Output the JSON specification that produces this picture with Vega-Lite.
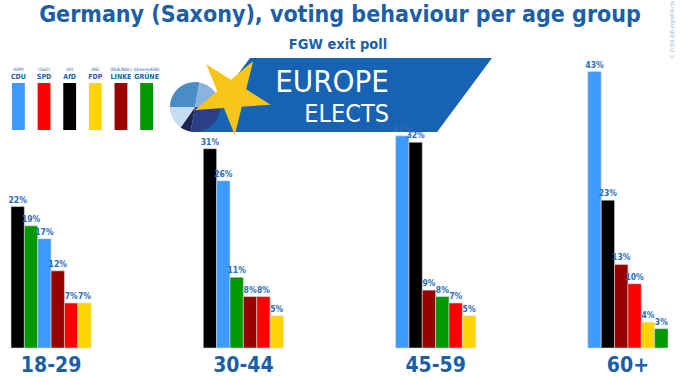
{
  "$schema": "https://vega.github.io/schema/vega-lite/v6.json",
  "width": 657,
  "height": 288,
  "autosize": "none",
  "padding": {"left": 11, "top": 60, "right": 12, "bottom": 29},
  "background": "white",
  "config": {"view": {"stroke": null}, "font": "DejaVu Sans Condensed, Liberation Sans Narrow, Roboto, sans-serif"},
  "datasets": {
    "votes": [
      {"age": "18-29", "party": "AfD", "value": 22},
      {"age": "18-29", "party": "GRÜNE", "value": 19},
      {"age": "18-29", "party": "CDU", "value": 17},
      {"age": "18-29", "party": "LINKE", "value": 12},
      {"age": "18-29", "party": "SPD", "value": 7},
      {"age": "18-29", "party": "FDP", "value": 7},
      {"age": "30-44", "party": "AfD", "value": 31},
      {"age": "30-44", "party": "CDU", "value": 26},
      {"age": "30-44", "party": "GRÜNE", "value": 11},
      {"age": "30-44", "party": "LINKE", "value": 8},
      {"age": "30-44", "party": "SPD", "value": 8},
      {"age": "30-44", "party": "FDP", "value": 5},
      {"age": "45-59", "party": "CDU", "value": 33},
      {"age": "45-59", "party": "AfD", "value": 32},
      {"age": "45-59", "party": "LINKE", "value": 9},
      {"age": "45-59", "party": "GRÜNE", "value": 8},
      {"age": "45-59", "party": "SPD", "value": 7},
      {"age": "45-59", "party": "FDP", "value": 5},
      {"age": "60+", "party": "CDU", "value": 43},
      {"age": "60+", "party": "AfD", "value": 23},
      {"age": "60+", "party": "LINKE", "value": 13},
      {"age": "60+", "party": "SPD", "value": 10},
      {"age": "60+", "party": "FDP", "value": 4},
      {"age": "60+", "party": "GRÜNE", "value": 3}
    ],
    "parties": [
      {"party": "CDU", "group": "(EPP)"},
      {"party": "SPD", "group": "(S&D)"},
      {"party": "AfD", "group": "(ID)"},
      {"party": "FDP", "group": "(RE)"},
      {"party": "LINKE", "group": "(GUE/NGL)"},
      {"party": "GRÜNE", "group": "(Greens/EFA)"}
    ],
    "pie": [
      {"seg": "a"}, {"seg": "b"}, {"seg": "c"}, {"seg": "d"}, {"seg": "e"}
    ]
  },
  "layer": [
    {
      "encoding": {
        "x": {"datum": 0, "type": "quantitative", "scale": {"domain": [11, 668], "range": [0, 657]}, "axis": null},
        "y": {"datum": 0, "type": "quantitative", "scale": {"domain": [60, 348], "range": [0, 288]}, "axis": null}
      },
      "layer": [
        {
          "data": {"values": [{}]},
          "mark": {"type": "text", "text": "Germany (Saxony), voting behaviour per age group", "align": "center", "baseline": "alphabetic", "fontSize": 23, "fontWeight": "bold", "fill": "#1a5fa8"},
          "encoding": {"x": {"datum": 340, "type": "quantitative"}, "y": {"datum": 22, "type": "quantitative"}}
        },
        {
          "data": {"values": [{}]},
          "mark": {"type": "text", "text": "FGW exit poll", "align": "center", "baseline": "alphabetic", "fontSize": 14.5, "fontWeight": "bold", "fill": "#1a5fa8"},
          "encoding": {"x": {"datum": 338, "type": "quantitative"}, "y": {"datum": 49, "type": "quantitative"}}
        },
        {
          "data": {"values": [{}]},
          "mark": {"type": "point", "shape": "M-0.630,-0.249L1,-0.249L0.630,0.249L-1,0.249Z", "size": 88209, "filled": true, "fill": "#1762b2", "opacity": 1, "strokeWidth": 0},
          "encoding": {"x": {"datum": 343.5, "type": "quantitative"}, "y": {"datum": 95, "type": "quantitative"}}
        },
        {
          "data": {"name": "pie"},
          "mark": {"type": "point", "filled": true, "size": 2500, "opacity": 1, "strokeWidth": 0},
          "encoding": {
            "x": {"datum": 195, "type": "quantitative"},
            "y": {"datum": 107, "type": "quantitative"},
            "shape": {"field": "seg", "type": "nominal", "legend": null,
              "scale": {"domain": ["a", "b", "c", "d", "e"], "range": [
                "M0,0L-1,0A1,1 0 0 1 0.174,-0.985Z",
                "M0,0L0.174,-0.985A1,1 0 0 1 1,0Z",
                "M0,0L1,0A1,1 0 0 1 -0.174,0.985Z",
                "M0,0L-0.174,0.985A1,1 0 0 1 -0.574,0.819Z",
                "M0,0L-0.574,0.819A1,1 0 0 1 -1,0Z"]}},
            "color": {"field": "seg", "type": "nominal", "legend": null,
              "scale": {"domain": ["a", "b", "c", "d", "e"], "range": ["#4a8cc4", "#8ab4de", "#2a3f85", "#1b2552", "#c6dcf0"]}}
          }
        },
        {
          "data": {"values": [{}]},
          "mark": {"type": "point", "shape": "M0,-1L0.225,-0.309L0.951,-0.309L0.363,0.118L0.588,0.809L0,0.382L-0.588,0.809L-0.363,0.118L-0.951,-0.309L-0.225,-0.309Z", "size": 6400, "filled": true, "fill": "#f7c51a", "opacity": 1, "strokeWidth": 0, "angle": 32},
          "encoding": {"x": {"datum": 232, "type": "quantitative"}, "y": {"datum": 95, "type": "quantitative"}}
        },
        {
          "data": {"values": [{}]},
          "mark": {"type": "text", "text": "EUROPE", "align": "right", "baseline": "alphabetic", "fontSize": 31, "font": "DejaVu Sans Condensed, Roboto, sans-serif", "fontWeight": 300, "fill": "white"},
          "encoding": {"x": {"datum": 389, "type": "quantitative"}, "y": {"datum": 92, "type": "quantitative"}}
        },
        {
          "data": {"values": [{}]},
          "mark": {"type": "text", "text": "ELECTS", "align": "right", "baseline": "alphabetic", "fontSize": 25, "font": "DejaVu Sans Condensed, Roboto, sans-serif", "fontWeight": 300, "fill": "white"},
          "encoding": {"x": {"datum": 389, "type": "quantitative"}, "y": {"datum": 122, "type": "quantitative"}}
        },
        {
          "data": {"values": [{}]},
          "mark": {"type": "text", "text": "© 2019 @EuropeElects", "align": "center", "baseline": "middle", "fontSize": 5.5, "angle": 270, "fill": "#9db3d2"},
          "encoding": {"x": {"datum": 672, "type": "quantitative"}, "y": {"datum": 30, "type": "quantitative"}}
        }
      ]
    },
    {
      "data": {"name": "votes"},
      "transform": [
        {"window": [{"op": "row_number", "as": "rank"}], "groupby": ["age"]},
        {"calculate": "datum.value + '%'", "as": "label"}
      ],
      "encoding": {
        "x": {
          "field": "age", "type": "nominal", "sort": ["18-29", "30-44", "45-59", "60+"],
          "scale": {"paddingInner": 0.583, "paddingOuter": 0},
          "title": null,
          "axis": {"orient": "bottom", "domain": false, "ticks": false, "labelPadding": 6, "labelFontSize": 21, "labelFontWeight": "bold", "labelColor": "#1a5fa8", "labelAngle": 0}
        },
        "xOffset": {"field": "rank", "type": "ordinal", "scale": {"paddingInner": 0, "paddingOuter": 0}},
        "y": {"field": "value", "type": "quantitative", "scale": {"domain": [0, 44.8], "nice": false}, "axis": null}
      },
      "layer": [
        {
          "mark": {"type": "bar", "stroke": "#d8d8d8", "strokeWidth": 0.6},
          "encoding": {
            "color": {"field": "party", "type": "nominal",
              "scale": {"domain": ["CDU", "SPD", "AfD", "FDP", "LINKE", "GRÜNE"], "range": ["#3d9bff", "#ff0000", "#000000", "#ffd500", "#990000", "#009a00"]},
              "legend": null}
          }
        },
        {
          "mark": {"type": "text", "baseline": "bottom", "dy": -2, "fontSize": 8.5, "fontWeight": "bold", "color": "#2a6cb8"},
          "encoding": {"text": {"field": "label"}}
        }
      ]
    },
    {
      "data": {"name": "parties"},
      "encoding": {
        "x": {"field": "party", "type": "nominal", "sort": null,
          "scale": {"domain": ["CDU", "SPD", "AfD", "FDP", "LINKE", "GRÜNE"], "range": [1, 142], "paddingInner": 0.5, "paddingOuter": 0},
          "axis": null}
      },
      "layer": [
        {
          "mark": "bar",
          "encoding": {
            "y": {"datum": 1, "type": "quantitative", "scale": {"domain": [0, 1], "range": [70, 23]}, "axis": null},
            "y2": {"datum": 0},
            "color": {"field": "party", "type": "nominal",
              "scale": {"domain": ["CDU", "SPD", "AfD", "FDP", "LINKE", "GRÜNE"], "range": ["#3d9bff", "#ff0000", "#000000", "#ffd500", "#990000", "#009a00"]},
              "legend": null}
          }
        },
        {
          "mark": {"type": "text", "baseline": "bottom", "dy": -3, "fontSize": 7, "fontWeight": "bold", "color": "#1a5fa8"},
          "encoding": {"y": {"datum": 1, "type": "quantitative"}, "text": {"field": "party"}}
        },
        {
          "mark": {"type": "text", "baseline": "bottom", "dy": -11, "fontSize": 4.5, "color": "#1a5fa8"},
          "encoding": {"y": {"datum": 1, "type": "quantitative"}, "text": {"field": "group"}}
        }
      ]
    }
  ],
  "resolve": {"scale": {"x": "independent", "y": "independent", "color": "independent", "shape": "independent"}}
}
